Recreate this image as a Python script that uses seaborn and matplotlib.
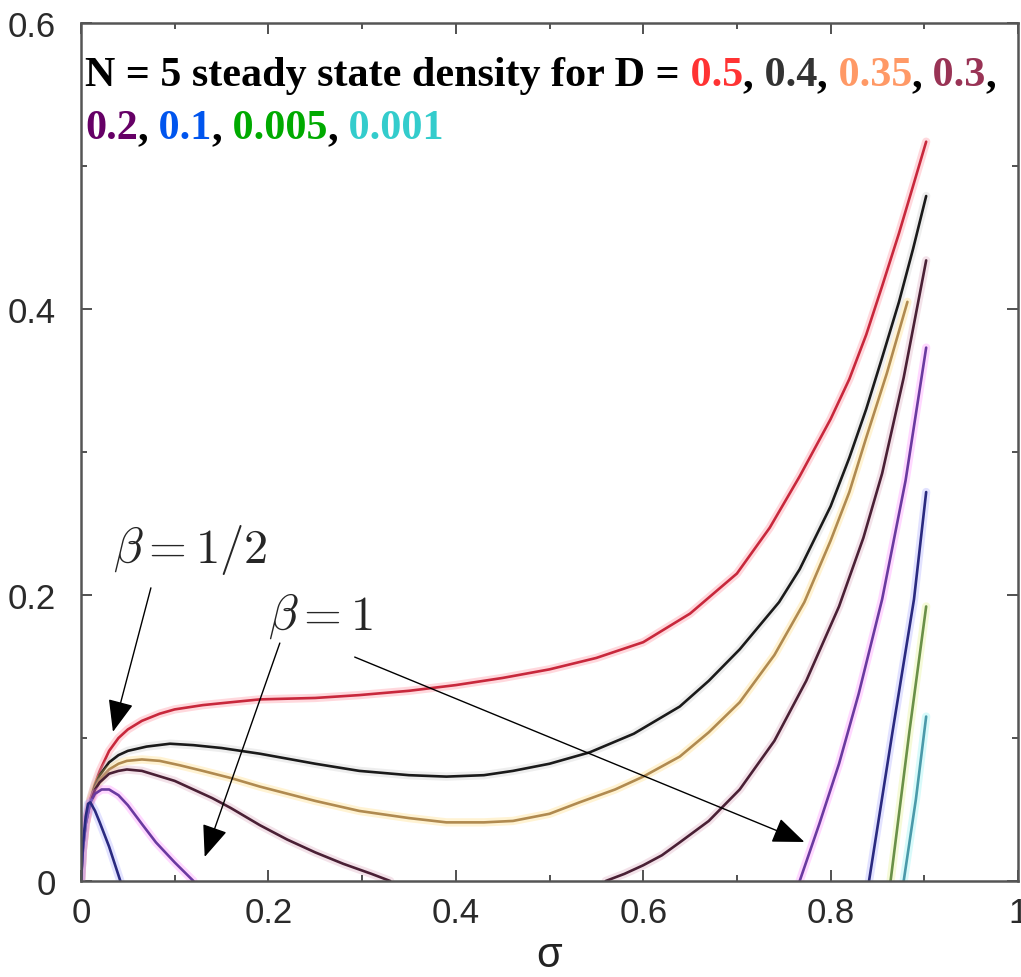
import matplotlib
matplotlib.use("Agg")
import matplotlib.pyplot as plt
import matplotlib.ticker as mticker
import pandas as pd
import seaborn as sns

# ---- N = 5 steady-state density vs sigma, one series per diffusion D ----
d_labels = ["0.5", "0.4", "0.35", "0.3", "0.2", "0.1", "0.005", "0.001"]

sig_d050 = [0.0, 0.002, 0.005, 0.010, 0.015, 0.020, 0.030, 0.040, 0.050, 0.065,
            0.084, 0.100, 0.130, 0.160, 0.191, 0.250, 0.297, 0.350, 0.400, 0.450,
            0.500, 0.550, 0.600, 0.650, 0.700, 0.735, 0.767, 0.800, 0.820, 0.838,
            0.855, 0.873, 0.888, 0.902]
rho_d050 = [0.0, 0.022, 0.040, 0.057, 0.068, 0.077, 0.091, 0.100, 0.106, 0.112,
            0.117, 0.120, 0.123, 0.125, 0.127, 0.128, 0.130, 0.133, 0.137, 0.142,
            0.148, 0.156, 0.167, 0.187, 0.215, 0.247, 0.283, 0.323, 0.351, 0.382,
            0.416, 0.453, 0.486, 0.517]

sig_d040 = [0.0, 0.002, 0.005, 0.010, 0.015, 0.020, 0.030, 0.040, 0.050, 0.070,
            0.095, 0.120, 0.150, 0.191, 0.250, 0.297, 0.350, 0.390, 0.430, 0.461,
            0.500, 0.543, 0.590, 0.639, 0.670, 0.703, 0.745, 0.767, 0.800, 0.820,
            0.838, 0.855, 0.873, 0.888, 0.902]
rho_d040 = [0.0, 0.022, 0.040, 0.057, 0.067, 0.074, 0.083, 0.088, 0.091, 0.094,
            0.096, 0.095, 0.093, 0.089, 0.082, 0.077, 0.074, 0.073, 0.074, 0.077,
            0.082, 0.090, 0.103, 0.122, 0.140, 0.162, 0.195, 0.218, 0.262, 0.296,
            0.330, 0.366, 0.405, 0.442, 0.479]

sig_d035 = [0.0, 0.002, 0.005, 0.010, 0.015, 0.020, 0.030, 0.040, 0.049, 0.065,
            0.084, 0.105, 0.130, 0.160, 0.191, 0.250, 0.297, 0.350, 0.390, 0.430,
            0.461, 0.500, 0.532, 0.570, 0.600, 0.639, 0.670, 0.703, 0.740, 0.772,
            0.800, 0.820, 0.838, 0.860, 0.882]
rho_d035 = [0.0, 0.022, 0.040, 0.056, 0.065, 0.071, 0.078, 0.082, 0.084, 0.085,
            0.084, 0.081, 0.077, 0.072, 0.066, 0.056, 0.049, 0.044, 0.041, 0.041,
            0.042, 0.047, 0.055, 0.064, 0.073, 0.087, 0.104, 0.125, 0.158, 0.195,
            0.238, 0.272, 0.310, 0.355, 0.405]

sig_d030_low = [0.0, 0.002, 0.005, 0.010, 0.015, 0.020, 0.030, 0.040, 0.049, 0.065,
                0.080, 0.100, 0.120, 0.140, 0.160, 0.191, 0.220, 0.250, 0.280, 0.310,
                0.330]
rho_d030_low = [0.0, 0.022, 0.040, 0.055, 0.064, 0.069, 0.075, 0.077, 0.078, 0.077,
                0.074, 0.070, 0.064, 0.058, 0.051, 0.039, 0.029, 0.020, 0.012, 0.005,
                0.0]
sig_d030_high = [0.560, 0.580, 0.600, 0.620, 0.639, 0.670, 0.703, 0.740, 0.774, 0.809,
                 0.835, 0.855, 0.878, 0.902]
rho_d030_high = [0.0, 0.005, 0.011, 0.018, 0.027, 0.042, 0.064, 0.098, 0.140, 0.192,
                 0.240, 0.285, 0.352, 0.434]

sig_d020_low = [0.0, 0.002, 0.005, 0.010, 0.015, 0.022, 0.030, 0.040, 0.050, 0.066,
                0.080, 0.100, 0.120]
rho_d020_low = [0.0, 0.022, 0.040, 0.055, 0.061, 0.064, 0.064, 0.060, 0.053, 0.039,
                0.027, 0.013, 0.0]
sig_d020_high = [0.767, 0.788, 0.809, 0.830, 0.855, 0.880, 0.902]
rho_d020_high = [0.0, 0.040, 0.082, 0.131, 0.197, 0.280, 0.373]

sig_d010_low = [0.0, 0.002, 0.005, 0.0075, 0.010, 0.015, 0.020, 0.030, 0.042]
rho_d010_low = [0.0, 0.025, 0.045, 0.054, 0.055, 0.049, 0.041, 0.024, 0.0]
sig_d010_high = [0.841, 0.866, 0.889, 0.902]
rho_d010_high = [0.0, 0.104, 0.197, 0.272]

sig_d0005 = [0.864, 0.884, 0.902]
rho_d0005 = [0.0, 0.104, 0.192]

sig_d0001 = [0.878, 0.891, 0.902]
rho_d0001 = [0.0, 0.057, 0.115]

branches = [
    ("0.5", "a", sig_d050, rho_d050),
    ("0.4", "a", sig_d040, rho_d040),
    ("0.35", "a", sig_d035, rho_d035),
    ("0.3", "a", sig_d030_low, rho_d030_low),
    ("0.3", "b", sig_d030_high, rho_d030_high),
    ("0.2", "a", sig_d020_low, rho_d020_low),
    ("0.2", "b", sig_d020_high, rho_d020_high),
    ("0.1", "a", sig_d010_low, rho_d010_low),
    ("0.1", "b", sig_d010_high, rho_d010_high),
    ("0.005", "b", sig_d0005, rho_d0005),
    ("0.001", "b", sig_d0001, rho_d0001),
]
rows = []
for d, br, xs, ys in branches:
    for x, y in zip(xs, ys):
        rows.append({"D": d, "branch": br, "sigma": x, "density": y})
df = pd.DataFrame(rows)

line_colors = {"0.5": "#c8283c", "0.4": "#1a1a1a", "0.35": "#b08a50",
               "0.3": "#4a2035", "0.2": "#6a3aa0", "0.1": "#2a2a80",
               "0.005": "#6a9048", "0.001": "#4a9aaa"}
halo_colors = {"0.5": "#ff8090", "0.4": "#c8c8c8", "0.35": "#ffd870",
               "0.3": "#d8a0b8", "0.2": "#ff80ff", "0.1": "#a0a0ff",
               "0.005": "#e0f080", "0.001": "#80f0f0"}
text_colors = {"0.5": "#ff3333", "0.4": "#333333", "0.35": "#ff9966",
               "0.3": "#993355", "0.2": "#660066", "0.1": "#0055ee",
               "0.005": "#00aa00", "0.001": "#33cccc"}

x_ticks = [0, 0.2, 0.4, 0.6, 0.8, 1.0]
x_ticklabels = ["0", "0.2", "0.4", "0.6", "0.8", "1"]
y_ticks = [0, 0.2, 0.4, 0.6]
y_ticklabels = ["0", "0.2", "0.4", "0.6"]

# ---- figure ----
W, H = 1021, 978
sns.set_theme(style="ticks")
plt.rcParams["font.family"] = ["Liberation Sans", "DejaVu Sans"]
plt.rcParams["mathtext.fontset"] = "cm"

fig = plt.figure(figsize=(W / 100, H / 100), dpi=100, facecolor="white")
ax = fig.add_axes([81 / W, 1 - 882 / H, 937 / W, 858 / H])
ax.set_facecolor("white")

for (d, br), grp in df.groupby(["D", "branch"], sort=False):
    sns.lineplot(data=grp, x="sigma", y="density", sort=False, estimator=None,
                 color=halo_colors[d], lw=6, alpha=0.3, ax=ax, legend=False)
    sns.lineplot(data=grp, x="sigma", y="density", sort=False, estimator=None,
                 color=line_colors[d], lw=1.9, ax=ax, legend=False)

ax.set_xlim(0, 1)
ax.set_ylim(0, 0.6)
ax.set_xticks(x_ticks)
ax.set_xticklabels(x_ticklabels)
ax.set_yticks(y_ticks)
ax.set_yticklabels(y_ticklabels)
ax.xaxis.set_minor_locator(mticker.MultipleLocator(0.1))
ax.yaxis.set_minor_locator(mticker.MultipleLocator(0.1))
ax.tick_params(which="both", direction="in", top=True, right=True,
               color="#333333", width=1.2)
ax.tick_params(which="major", length=8)
ax.tick_params(which="minor", length=4.5)
ax.tick_params(axis="x", which="major", labelsize=25, pad=11, labelcolor="#2a2a2a")
ax.tick_params(axis="y", which="major", labelsize=25, pad=18, labelcolor="#2a2a2a")
for sp in ax.spines.values():
    sp.set_color("#555555")
    sp.set_linewidth(1.8)

ax.set_xlabel("σ", fontsize=30, color="#222222", va="center")
ax.set_ylabel("")
ax.xaxis.set_label_coords(0.5, (882 - 956) / 858)

# ---- beta annotations ----
def fpos(px, py):
    return px / W, 1 - py / H

fig.text(*fpos(113, 563), r"$\beta=1/2$", fontsize=35, ha="left", va="baseline")
fig.text(*fpos(268, 630), r"$\beta=1$", fontsize=35, ha="left", va="baseline")

arrow_style = "-|>,head_length=1.0,head_width=0.4"
arrow_props = dict(arrowstyle=arrow_style, mutation_scale=20, lw=1.0,
                   color="black", shrinkA=0, shrinkB=0)
ax.annotate("", xy=(0.0341, 0.1043), xytext=(0.0746, 0.2050), arrowprops=arrow_props)
ax.annotate("", xy=(0.1320, 0.0168), xytext=(0.2122, 0.1664), arrowprops=arrow_props)
ax.annotate("", xy=(0.7720, 0.0273), xytext=(0.2921, 0.1566), arrowprops=arrow_props)

# ---- coloured heading inside the axes ----
line1 = [("N = 5 steady state density for D =", "black"),
         (" 0.5", text_colors["0.5"]), (",", "black"),
         (" 0.4", text_colors["0.4"]), (",", "black"),
         (" 0.35", text_colors["0.35"]), (",", "black"),
         (" 0.3", text_colors["0.3"]), (",", "black")]
line2 = [("0.2", text_colors["0.2"]), (",", "black"),
         (" 0.1", text_colors["0.1"]), (",", "black"),
         (" 0.005", text_colors["0.005"]), (",", "black"),
         (" 0.001", text_colors["0.001"])]

fig.canvas.draw()
renderer = fig.canvas.get_renderer()
for base_y, segments in [(86, line1), (139, line2)]:
    x = 85.0
    for txt, col in segments:
        t = fig.text(*fpos(x, base_y), txt, color=col, fontsize=30.3,
                     fontweight="bold", family="Liberation Serif",
                     ha="left", va="baseline")
        x += t.get_window_extent(renderer).width

fig.savefig("out.png", dpi=100, facecolor="white")
